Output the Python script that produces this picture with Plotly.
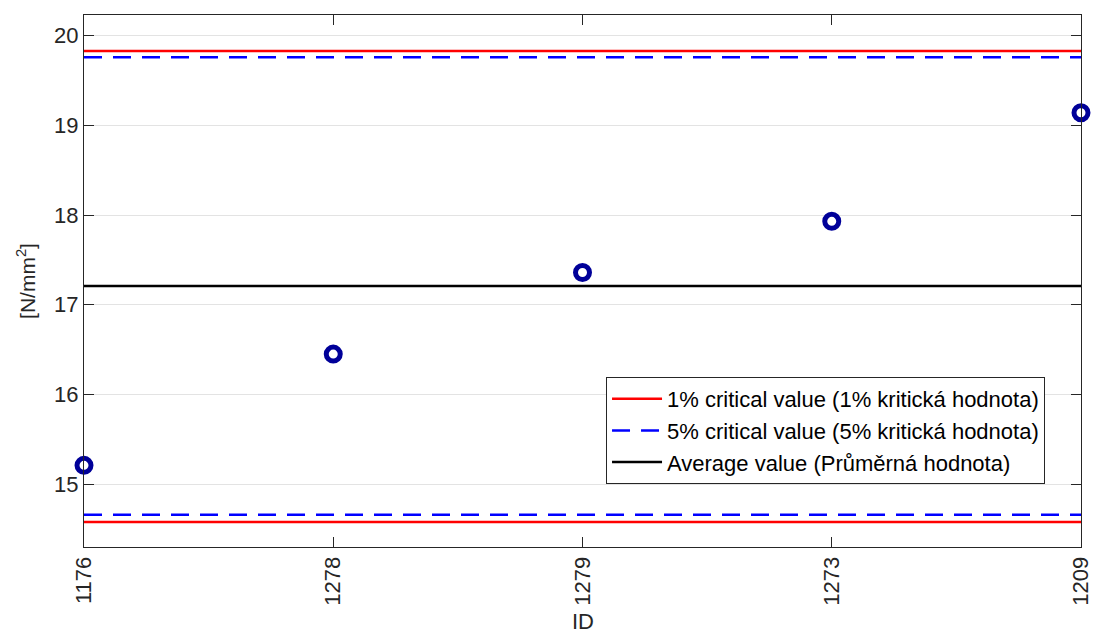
import plotly.graph_objects as go

ids = ["1176", "1278", "1279", "1273", "1209"]
values = [15.21, 16.45, 17.36, 17.93, 19.14]
crit1 = [14.58, 19.83]   # lower, upper 1% critical values
crit5 = [14.66, 19.76]   # lower, upper 5% critical values
avg = 17.21
y_ticks = [15, 16, 17, 18, 19, 20]

xpos = list(range(len(ids)))
x0, x1 = xpos[0], xpos[-1]

FONT = "Liberation Sans, Arial, sans-serif"

fig = go.Figure()
fig.add_trace(go.Scatter(
    x=[x0, x1, None, x0, x1], y=[crit1[1], crit1[1], None, crit1[0], crit1[0]],
    mode="lines", line=dict(color="#ff0000", width=2.5),
    name="1% critical value (1% kritická hodnota)"))
fig.add_trace(go.Scatter(
    x=[x0, x1, None, x0, x1], y=[crit5[1], crit5[1], None, crit5[0], crit5[0]],
    mode="lines", line=dict(color="#0000ff", width=2.5, dash="18px,11px"),
    name="5% critical value (5% kritická hodnota)"))
fig.add_trace(go.Scatter(
    x=[x0, x1], y=[avg, avg],
    mode="lines", line=dict(color="#000000", width=2.5),
    name="Average value (Průměrná hodnota)"))
fig.add_trace(go.Scatter(
    x=xpos, y=values, mode="markers", showlegend=False, cliponaxis=False,
    marker=dict(symbol="circle-open", size=14, color="#000099",
                line=dict(width=5, color="#000099"))))

fig.update_layout(
    width=1095, height=637,
    margin=dict(l=84, r=14, t=15, b=90, autoexpand=False),
    paper_bgcolor="white", plot_bgcolor="white",
    font=dict(family=FONT, color="#262626"),
    legend=dict(x=0.5236, y=0.3195, xanchor="left", yanchor="top",
                bgcolor="white", bordercolor="#262626", borderwidth=1,
                font=dict(size=22, color="#000000", family=FONT),
                itemwidth=50, tracegroupgap=0),
    xaxis=dict(range=[x0, x1], tickvals=xpos, ticktext=ids, tickangle=-90,
               tickfont=dict(size=22), ticks="inside", ticklen=10,
               ticklabeloverflow="allow",
               tickcolor="#262626", showline=True, linecolor="#262626",
               linewidth=1, mirror="ticks", showgrid=False, zeroline=False,
               automargin=False),
    yaxis=dict(range=[14.30, 20.23], tickvals=y_ticks, tickfont=dict(size=22),
               ticks="inside", ticklen=10, tickcolor="#262626",
               showline=True, linecolor="#262626", linewidth=1, mirror="ticks",
               showgrid=True, gridcolor="#e3e3e3", gridwidth=1, zeroline=False,
               automargin=False,
               title=dict(text="[N/mm<sup>2</sup>]", font=dict(size=21), standoff=12)),
    annotations=[dict(text="ID", xref="paper", yref="paper", x=0.5, y=-0.1673,
                      xanchor="center", yanchor="bottom", showarrow=False,
                      font=dict(size=22, color="#262626", family=FONT))],
)

# remove the page's default 8px body margin so the figure fills the window
fig.write_html("out.html", config={"displayModeBar": False},
               post_script="document.body.style.margin='0';document.body.style.overflow='hidden';")
